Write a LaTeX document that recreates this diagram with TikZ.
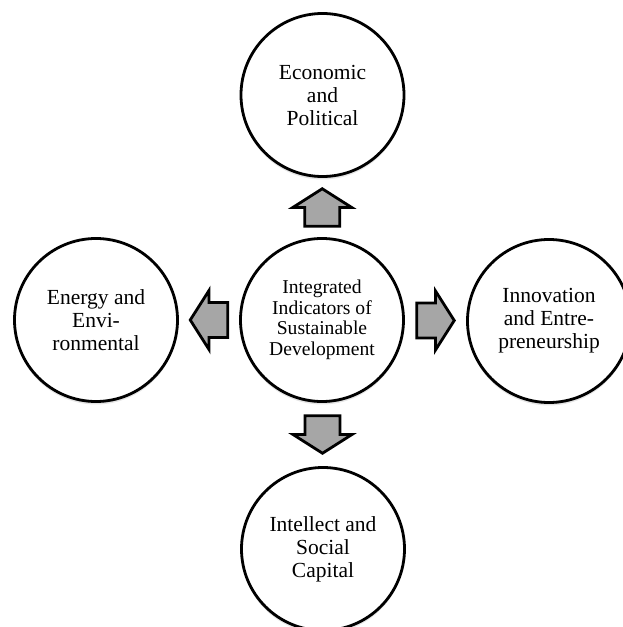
\documentclass[tikz,border=0pt]{standalone}
\usepackage{fontspec}
\setmainfont{Liberation Serif}
\usetikzlibrary{calc,shadows}
\definecolor{arrowgray}{RGB}{166,166,166}
\begin{document}
\begin{tikzpicture}[x=1pt,y=1pt,
  topic/.style={circle,draw=black,line width=2.8pt,fill=white,minimum size=163pt,inner sep=0pt,align=center,
    font=\fontsize{21.5}{23}\selectfont,
    drop shadow={shadow xshift=0pt,shadow yshift=-3pt,opacity=0.10,fill=black},
    drop shadow={shadow xshift=0pt,shadow yshift=-1.5pt,opacity=0.15,fill=black}},
  core/.style={topic,font=\fontsize{19.6}{20.5}\selectfont},
  blockarrow/.pic={\draw[line width=2.8pt,fill=arrowgray,line join=miter]
    (-18.75,-17.5) -- (0,-17.5) -- (0,-29.5) -- (18.75,0) -- (0,29.5) -- (0,17.5) -- (-18.75,17.5) -- cycle;}
]
\useasboundingbox (0,0) rectangle (622,627);
\node[core] (c) at (322,307) {Integrated\\Indicators of\\Sustainable\\Development};
\node[topic] (t) at (322.5,532) {Economic\\and\\Political};
\node[topic] (l) at (96,307) {Energy and\\Envi-\\ronmental};
\node[topic] (r) at (549,306) {Innovation\\and Entre-\\preneurship};
\node[topic] (b) at (323,78) {Intellect and\\Social\\Capital};
\path ($(c)!0.5!(t)$) pic[rotate=90] {blockarrow};
\path ($(c)!0.5!(b)$) pic[rotate=-90] {blockarrow};
\path ($(c)!0.5!(l)$) pic[rotate=180] {blockarrow};
\path ($(c)!0.5!(r)$) pic {blockarrow};
\end{tikzpicture}
\end{document}
